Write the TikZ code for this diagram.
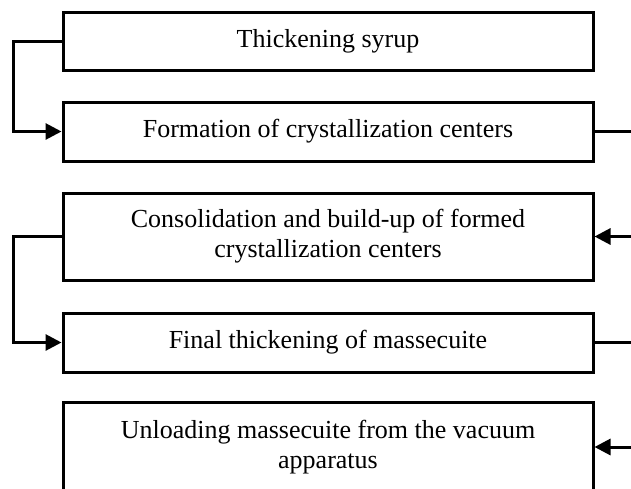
\documentclass[tikz,border=0pt]{standalone}
\usepackage{fontspec}
\setmainfont{Liberation Serif}
\usetikzlibrary{arrows.meta}
\begin{document}
\begin{tikzpicture}[x=1pt,y=-1pt,
  stepbox/.style={draw=black,line width=3pt,rectangle,minimum width=530pt,align=center,inner sep=0pt,
    font=\fontsize{26}{30}\selectfont},
  conn/.style={draw=black,line width=3pt},
  tip/.style={-{Triangle[length=16pt,width=16pt]}}]
\useasboundingbox (0,0) rectangle (631,488);
\clip (0,0) rectangle (631,488);
\node[stepbox,minimum height=58pt] (b1) at (328,41) {Thickening syrup};
\node[stepbox,minimum height=59pt] (b2) at (328,131.5) {Formation of crystallization centers};
\node[stepbox,minimum height=87pt] (b3) at (328,236.5) {Consolidation and build-up of formed\\crystallization centers};
\node[stepbox,minimum height=59pt] (b4) at (328,342.5) {Final thickening of massecuite};
\node[stepbox,minimum height=90pt] (b5) at (328,447) {Unloading massecuite from the vacuum\\apparatus};
\coordinate (r2) at (640,131.5);
\coordinate (r3) at (640,236.5);
\coordinate (r4) at (640,342.5);
\coordinate (r5) at (640,447);
\draw[conn,tip] (b1.west) -- ++(-48,0) |- (b2.west);
\draw[conn,tip] (b3.west) -- ++(-48,0) |- (b4.west);
\draw[conn] (b2.east) -- (r2);
\draw[conn,tip] (r3) -- (b3.east);
\draw[conn] (b4.east) -- (r4);
\draw[conn,tip] (r5) -- (b5.east);
\end{tikzpicture}
\end{document}
